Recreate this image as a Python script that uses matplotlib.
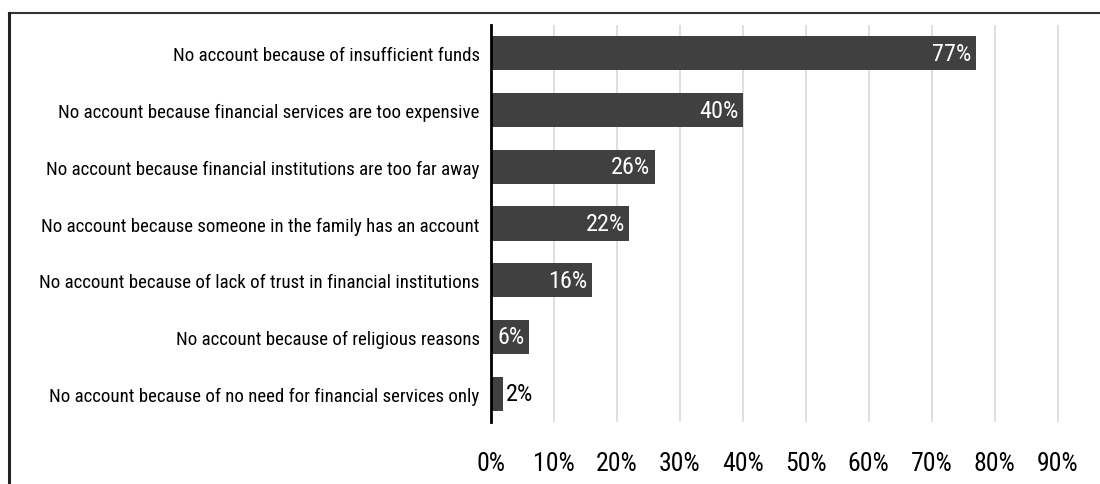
import matplotlib.pyplot as plt
from matplotlib import font_manager
from matplotlib.lines import Line2D
from matplotlib.ticker import FuncFormatter

# Reasons for not having an account (share of respondents)
reasons = [
    'No account because of insufficient funds',
    'No account because financial services are too expensive',
    'No account because financial institutions are too far away',
    'No account because someone in the family has an account',
    'No account because of lack of trust in financial institutions',
    'No account because of religious reasons',
    'No account because of no need for financial services only',
]
shares = [0.77, 0.40, 0.26, 0.22, 0.16, 0.06, 0.02]
share_labels = ['77%', '40%', '26%', '22%', '16%', '6%', '2%']
x_ticks = [0.0, 0.1, 0.2, 0.3, 0.4, 0.5, 0.6, 0.7, 0.8, 0.9]

# pick a narrow sans face if one is installed
installed = {f.name for f in font_manager.fontManager.ttflist}
narrow = [n for n in ['Liberation Sans Narrow', 'Roboto Condensed', 'Archivo Narrow',
                      'PT Sans Narrow', 'IBM Plex Sans Condensed'] if n in installed]
plt.rcParams['font.family'] = narrow[:1] + ['DejaVu Sans']

bar_color = '#404040'
grid_color = '#d9d9d9'

fig = plt.figure(figsize=(11, 4.85), dpi=100)
ax = fig.add_axes([0.4461, 0.1278, 1 - 0.4461, 0.8186])

y = list(range(len(reasons)))
ax.barh(y, shares, height=0.6, color=bar_color, zorder=3)
ax.set_ylim(len(reasons) - 0.5, -0.5)
ax.set_xlim(0, (1100 - 490.7) / 630)

ax.set_yticks(y)
ax.set_yticklabels(reasons, fontsize=13.6)
ax.set_xticks(x_ticks)
ax.xaxis.set_major_formatter(FuncFormatter(lambda v, _: f'{v * 100:.0f}%'))
ax.tick_params(axis='x', length=0, pad=21, labelsize=18.5)
ax.tick_params(axis='y', length=0, pad=8)

ax.grid(axis='x', color=grid_color, linewidth=1.2, zorder=0)
for side in ['top', 'right', 'bottom']:
    ax.spines[side].set_visible(False)
ax.spines['left'].set_linewidth(2)
ax.spines['left'].set_color('black')
ax.spines['left'].set_zorder(4)

# value labels: white inside the bar, black outside for the tiny one
for yi, val, lab in zip(y, shares, share_labels):
    if val >= 0.05:
        ax.annotate(lab, (val, yi), xytext=(-3, 0), textcoords='offset points',
                    ha='right', va='center', color='white', fontsize=17.5, zorder=5)
    else:
        ax.annotate(lab, (val, yi), xytext=(2, 0), textcoords='offset points',
                    ha='left', va='center', color='black', fontsize=17.5, zorder=5)

# outer frame along the top and left edges
fig.add_artist(Line2D([8.7 / 1100, 1], [1 - 13.7 / 485] * 2, transform=fig.transFigure,
                      color='#333333', linewidth=1.5))
fig.add_artist(Line2D([8.7 / 1100] * 2, [0, 1 - 13.7 / 485], transform=fig.transFigure,
                      color='#222222', linewidth=2.2))

fig.savefig('out.png', dpi=100)
